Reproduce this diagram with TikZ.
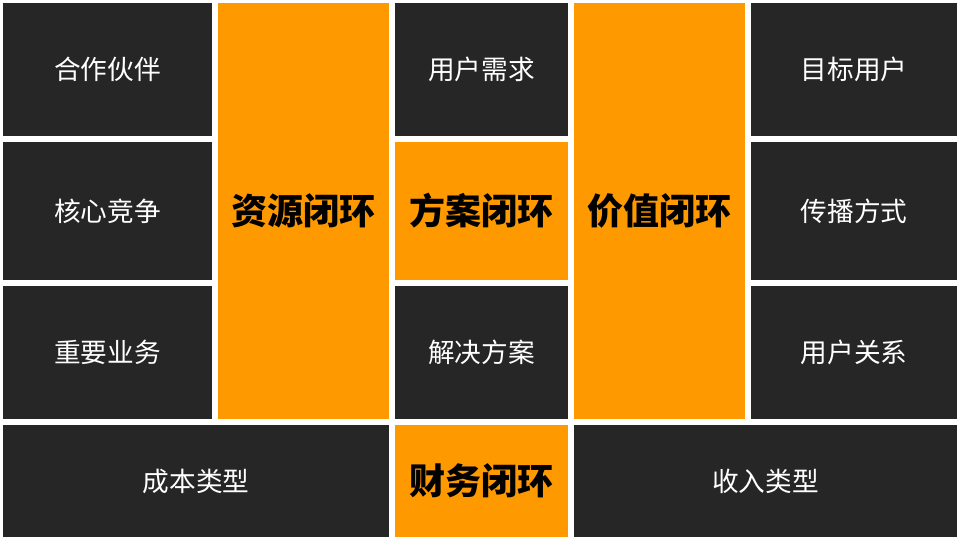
\documentclass[tikz,border=0pt]{standalone}
\usepackage{fontspec}
\setmainfont{Noto Sans CJK SC}
\usepackage{xcolor}
\usetikzlibrary{positioning}
\definecolor{cellgray}{HTML}{262626}
\definecolor{cellorange}{HTML}{FF9900}

\begin{document}
\begin{tikzpicture}[x=.75pt,y=-.75pt,
	darkcell/.style={fill=cellgray,inner sep=0pt,text=white,font=\fontsize{20}{24}\selectfont},
	loopcell/.style={fill=cellorange,inner sep=0pt,text=black,font=\fontsize{27}{32}\selectfont\bfseries}]
		\useasboundingbox[fill=white] (0,0) rectangle (960,540);
		
		% left column
		\node[darkcell,minimum width=156.75pt,minimum height=99.75pt] (partner) at (107.5,69.5) {合作伙伴};
		\node[darkcell,minimum width=156.75pt,minimum height=103.5pt] (compete) at (107.5,211) {核心竞争};
		\node[darkcell,minimum width=156.75pt,minimum height=99.75pt] (business) at (107.5,352.5) {重要业务};
		
		\node[loopcell,minimum width=128.25pt,minimum height=312pt] (resource) at (303.5,211) {资源闭环};
		
		% middle column
		\node[darkcell,minimum width=129.75pt,minimum height=99.75pt] (demand) at (481.5,69.5) {用户需求};
		\node[loopcell,minimum width=129.75pt,minimum height=103.5pt] (scheme) at (481.5,211) {方案闭环};
		\node[darkcell,minimum width=129.75pt,minimum height=99.75pt] (solution) at (481.5,352.5) {解决方案};
		
		\node[loopcell,minimum width=128.25pt,minimum height=312pt] (value) at (659.5,211) {价值闭环};
		
		% right column
		\node[darkcell,minimum width=154.5pt,minimum height=99.75pt] (target) at (854,69.5) {目标用户};
		\node[darkcell,minimum width=154.5pt,minimum height=103.5pt] (spread) at (854,211) {传播方式};
		\node[darkcell,minimum width=154.5pt,minimum height=99.75pt] (relation) at (854,352.5) {用户关系};
		
		% bottom row
		\node[darkcell,minimum width=289.5pt,minimum height=84pt] (cost) at (196,481) {成本类型};
		\node[loopcell,minimum width=129.75pt,minimum height=84pt] (finance) at (481.5,481) {财务闭环};
		\node[darkcell,minimum width=287.25pt,minimum height=84pt] (income) at (765.5,481) {收入类型};
\end{tikzpicture}
\end{document}
